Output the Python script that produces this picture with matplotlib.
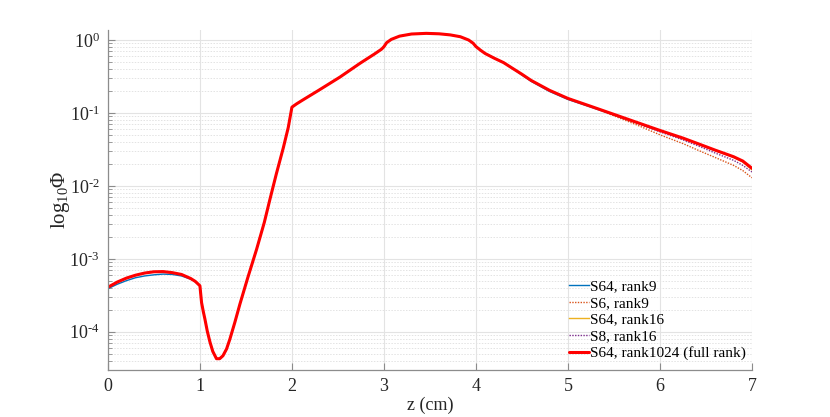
import matplotlib
matplotlib.use("Agg")
import matplotlib.pyplot as plt
from matplotlib.ticker import LogLocator, FixedLocator, NullFormatter, FuncFormatter
import math

plt.rcParams['font.family'] = ['Liberation Serif', 'DejaVu Serif']
plt.rcParams['mathtext.fontset'] = 'custom'
plt.rcParams['mathtext.rm'] = 'Liberation Serif'
plt.rcParams['mathtext.it'] = 'Liberation Serif:italic'
plt.rcParams['mathtext.bf'] = 'Liberation Serif:bold'

# ---- data ----
z_fuel = [0, 0.1, 0.2, 0.3, 0.4, 0.5, 0.6, 0.7, 0.8, 0.9, 0.95, 1.0]
z_mid = [1.018, 1.036, 1.054, 1.08, 1.109, 1.14, 1.18, 1.215, 1.25, 1.29,
         1.326, 1.38, 1.435, 1.52, 1.616, 1.7, 1.76, 1.83, 1.906, 1.96,
         2.0, 2.05, 2.12, 2.29, 2.52, 2.74, 2.9, 2.975, 3.0, 3.03,
         3.08, 3.17, 3.3, 3.46, 3.6, 3.72, 3.83, 3.92, 3.97, 4.0,
         4.05, 4.1, 4.2, 4.3, 4.4]
z_tail = [4.5, 4.6, 4.8, 5.0, 5.25, 5.5, 5.75, 6.0, 6.25, 6.43, 6.6, 6.8, 6.9, 7.0]
z = z_fuel + z_mid + z_tail

fuel_full = [4.07e-4, 4.79e-4, 5.43e-4, 5.96e-4, 6.38e-4, 6.64e-4, 6.68e-4, 6.46e-4, 6.10e-4, 5.37e-4, 4.90e-4, 4.27e-4]
fuel_s64_r9 = [3.89e-4, 4.47e-4, 5.01e-4, 5.50e-4, 5.82e-4, 6.03e-4, 6.17e-4, 6.10e-4, 5.82e-4, 5.25e-4, 4.84e-4, 4.27e-4]
mid_all = [2.51e-4, 1.91e-4, 1.50e-4, 1.02e-4, 7.24e-5, 5.37e-5, 4.27e-5, 4.27e-5, 4.68e-5, 5.82e-5,
           7.94e-5, 1.35e-4, 2.40e-4, 5.50e-4, 1.35e-3, 3.16e-3, 6.46e-3, 1.45e-2, 3.31e-2, 6.3e-2,
           0.120, 0.133, 0.151, 0.204, 0.309, 0.479, 0.646, 0.750, 0.810, 0.920,
           1.020, 1.130, 1.208, 1.233, 1.216, 1.175, 1.109, 1.0, 0.902, 0.813,
           0.724, 0.653, 0.562, 0.490, 0.407]
tail_full = [0.339, 0.279, 0.204, 0.158, 0.123, 0.0955, 0.0741, 0.0575, 0.0452, 0.0372, 0.0309, 0.0251, 0.0219, 0.0174]
tail_s64_r9 = [0.330, 0.271, 0.197, 0.153, 0.120, 0.0935, 0.0730, 0.0568, 0.0448, 0.0369, 0.0306, 0.0248, 0.0216, 0.0171]
tail_s6_r9 = [0.339, 0.279, 0.204, 0.157, 0.122, 0.0912, 0.0684, 0.0501, 0.0380, 0.0302, 0.0245, 0.0191, 0.0162, 0.0129]
tail_s64_r16 = [0.339, 0.279, 0.204, 0.158, 0.123, 0.0953, 0.0738, 0.0572, 0.0449, 0.0369, 0.0305, 0.0246, 0.0213, 0.0166]
tail_s8_r16 = [0.339, 0.279, 0.204, 0.158, 0.123, 0.0944, 0.0724, 0.0550, 0.0427, 0.0347, 0.0282, 0.0224, 0.0191, 0.0155]

phi_s64_r9 = fuel_s64_r9 + mid_all + tail_s64_r9
phi_s6_r9 = fuel_full + mid_all + tail_s6_r9
phi_s64_r16 = fuel_full + mid_all + tail_s64_r16
phi_s8_r16 = fuel_full + mid_all + tail_s8_r16
phi_full = fuel_full + mid_all + tail_full

labels = ['S64, rank9', 'S6, rank9', 'S64, rank16', 'S8, rank16', 'S64, rank1024 (full rank)']
xticks = [0, 1, 2, 3, 4, 5, 6, 7]

# ---- plot ----
fig = plt.figure(figsize=(8.30, 4.17), dpi=100)
ax = fig.add_axes([0.130, 0.113, 0.776, 0.815])

ax.plot(z, phi_s64_r9, color='#0072BD', lw=1.0, ls='-', label=labels[0])
ax.plot(z, phi_s6_r9, color='#D95319', lw=1.0, ls=(0, (1, 1)), label=labels[1])
ax.plot(z, phi_s64_r16, color='#EDB120', lw=1.0, ls='-', label=labels[2])
ax.plot(z, phi_s8_r16, color='#7E2F8E', lw=1.0, ls=(0, (1, 1)), label=labels[3])
ax.plot(z, phi_full, color='#FF0000', lw=2.2, ls='-', label=labels[4],
        solid_joinstyle='round', solid_capstyle='round')

ax.set_yscale('log')
ax.set_xlim(0, 7)
ax.set_ylim(3e-5, 1.37)
ax.xaxis.set_major_locator(FixedLocator(xticks))
ax.yaxis.set_major_locator(LogLocator(base=10, numticks=10))
ax.yaxis.set_minor_locator(LogLocator(base=10, subs=range(2, 10), numticks=50))
ax.yaxis.set_minor_formatter(NullFormatter())


def fmt(v, pos):
    e = int(round(math.log10(v)))
    if e < 0:
        return r'$10^{\text{-}%d}$' % (-e)
    return r'$10^{%d}$' % e


ax.yaxis.set_major_formatter(FuncFormatter(fmt))

ax.grid(True, which='major', color='#e3e3e3', lw=0.8, ls='-')
ax.grid(True, which='minor', axis='y', color='#e3e3e3', lw=0.7, ls=(0, (1.5, 1.5)))
ax.set_axisbelow(True)

for s in ['top', 'right']:
    ax.spines[s].set_visible(False)
for s in ['left', 'bottom']:
    ax.spines[s].set_color('#8c8c8c')
    ax.spines[s].set_linewidth(0.9)
ax.tick_params(axis='both', which='both', direction='in', colors='#8c8c8c', labelcolor='#262626', labelsize=13)
ax.tick_params(axis='both', which='major', length=5, pad=6)
ax.tick_params(axis='y', which='minor', length=3)

ax.set_xlabel('z (cm)', fontsize=13, color='#262626')
ax.set_ylabel(r'$\mathrm{log}_{10}\Phi$', fontsize=15, color='#262626')
ax.xaxis.set_label_coords(0.5, -0.078)
ax.yaxis.set_label_coords(-0.056, 0.5)

leg = ax.legend(loc='lower right', bbox_to_anchor=(1.0, 0.01), frameon=False, fontsize=11,
                handlelength=1.3, handletextpad=0.05, labelspacing=0.2, borderaxespad=0.0)

fig.savefig('out.png', dpi=100)
